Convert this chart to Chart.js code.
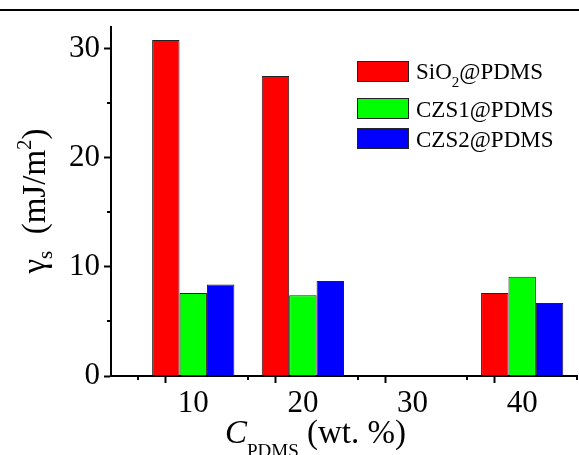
<!DOCTYPE html>
<html lang="en">
<head>
<meta charset="UTF-8">
<title>Surface energy vs PDMS content</title>
<style>
    html, body { margin: 0; padding: 0; background: #fff; }
    #chart { display: block; }
</style>
</head>
<body>
<canvas id="chart" width="579" height="455"></canvas>

<script src="https://cdn.jsdelivr.net/npm/chart.js"></script>
<script>
// PDMS content (wt. %) and surface energy values (mJ/m2)
const categories = [10, 20, 30, 40];
const sio2Values = [30.8, 27.5, null, 7.6];
const czs1Values = [7.6, 7.4, null, 9.1];
const czs2Values = [8.4, 8.7, null, 6.7];

const seriesNames = ['SiO2@PDMS', 'CZS1@PDMS', 'CZS2@PDMS'];
const seriesColors = ['#ff0000', '#00ff00', '#0000ff'];

const xTicks = [10, 20, 30, 40];
const yTicks = [0, 10, 20, 30];

const FONT = '"Liberation Serif", "Times New Roman", serif';

function toPoints(vals) {
    return categories.map((c, i) => ({ x: c, y: vals[i] }));
}

// draw text pieces one after another, with sub/superscripts
function drawRich(ctx, parts, x, y, center) {
    let total = 0;
    parts.forEach(p => {
        ctx.font = (p.italic ? 'italic ' : '') + p.size + 'px ' + FONT;
        p.w = ctx.measureText(p.text).width;
        total += p.w;
    });
    let cx = center ? x - total / 2 : x;
    parts.forEach(p => {
        ctx.font = (p.italic ? 'italic ' : '') + p.size + 'px ' + FONT;
        ctx.fillText(p.text, cx, y + (p.dy || 0));
        cx += p.w;
    });
}

const decorPlugin = {
    id: 'decor',
    afterDraw(chart) {
        const ctx = chart.ctx;
        const xs = chart.scales.x;
        const ys = chart.scales.y;
        const area = chart.chartArea;
        ctx.save();
        ctx.fillStyle = '#000';
        ctx.strokeStyle = '#000';

        // rule across the top
        ctx.fillRect(0, 9, chart.width, 2);

        // short minor ticks
        ctx.lineWidth = 2;
        ctx.beginPath();
        xs.ticks.forEach(t => {
            if (t.value % 10 !== 0) {
                const px = Math.round(xs.getPixelForValue(t.value));
                ctx.moveTo(px, area.bottom);
                ctx.lineTo(px, area.bottom + 4);
            }
        });
        ys.ticks.forEach(t => {
            if (t.value % 10 !== 0) {
                const py = Math.round(ys.getPixelForValue(t.value));
                ctx.moveTo(area.left - 4, py);
                ctx.lineTo(area.left, py);
            }
        });
        ctx.stroke();

        ctx.textBaseline = 'alphabetic';
        ctx.textAlign = 'left';

        // y axis title
        ctx.save();
        ctx.translate(45, 201);
        ctx.rotate(-Math.PI / 2);
        drawRich(ctx, [
            { text: 'γ', size: 33 },
            { text: 's', size: 21, dy: 7 },
            { text: '  (mJ/m', size: 33 },
            { text: '2', size: 21, dy: -14 },
            { text: ')', size: 33 }
        ], 0, 0, true);
        ctx.restore();

        // x axis title
        drawRich(ctx, [
            { text: 'C', size: 33, italic: true },
            { text: 'PDMS', size: 19, dy: 14 },
            { text: ' (wt. %)', size: 33 }
        ], 225, 443, false);

        // legend
        const boxTops = [61, 98, 128];
        const baselines = [79, 117, 147];
        chart.data.datasets.forEach((ds, i) => {
            ctx.fillStyle = ds.backgroundColor;
            ctx.fillRect(357, boxTops[i], 52, 21);
            ctx.lineWidth = 1;
            ctx.strokeStyle = '#222';
            ctx.strokeRect(357.5, boxTops[i] + 0.5, 51, 20);
            ctx.fillStyle = '#000';
            const name = seriesNames[i];
            if (name.startsWith('SiO2')) {
                drawRich(ctx, [
                    { text: 'SiO', size: 23 },
                    { text: '2', size: 15, dy: 8 },
                    { text: name.slice(4), size: 23 }
                ], 416, baselines[i], false);
            } else {
                drawRich(ctx, [{ text: name, size: 23 }], 416, baselines[i], false);
            }
        });
        ctx.restore();
    }
};

// bar width is worked out from the 5-unit tick spacing, so 1.5 of it spans a group
const datasets = [sio2Values, czs1Values, czs2Values].map((vals, i) => ({
    label: seriesNames[i],
    data: toPoints(vals),
    backgroundColor: seriesColors[i],
    borderColor: '#222',
    borderWidth: 1,
    categoryPercentage: 1.5,
    barPercentage: 1.0
}));

new Chart(document.getElementById('chart'), {
    type: 'bar',
    data: { datasets: datasets },
    options: {
        responsive: false,
        animation: false,
        devicePixelRatio: 1,
        layout: { padding: { top: 27, left: 0, right: 0, bottom: 0 } },
        plugins: {
            legend: { display: false },
            tooltip: { enabled: false }
        },
        scales: {
            x: {
                type: 'linear',
                min: 2.5,
                max: 45,
                offset: false,
                afterFit: s => { s.height = 79; },
                border: { color: '#000', width: 2 },
                grid: {
                    drawOnChartArea: false,
                    drawTicks: true,
                    tickLength: 7,
                    tickWidth: 2,
                    tickColor: c => (c.tick && xTicks.includes(c.tick.value)) ? '#000' : 'rgba(0,0,0,0)'
                },
                ticks: {
                    stepSize: 5,
                    includeBounds: false,
                    autoSkip: false,
                    maxRotation: 0,
                    padding: 2,
                    color: '#000',
                    font: { family: FONT, size: 31 },
                    callback: v => xTicks.includes(v) ? String(v) : ''
                }
            },
            y: {
                min: 0,
                max: 32,
                afterFit: s => { s.width = 111; },
                border: { color: '#000', width: 2 },
                grid: {
                    drawOnChartArea: false,
                    drawTicks: true,
                    tickLength: 7,
                    tickWidth: 2,
                    tickColor: c => (c.tick && yTicks.includes(c.tick.value)) ? '#000' : 'rgba(0,0,0,0)'
                },
                ticks: {
                    stepSize: 5,
                    includeBounds: false,
                    autoSkip: false,
                    padding: 4,
                    color: '#000',
                    font: { family: FONT, size: 31 },
                    callback: v => yTicks.includes(v) ? String(v) : ''
                }
            }
        }
    },
    plugins: [decorPlugin]
});
</script>
</body>
</html>
